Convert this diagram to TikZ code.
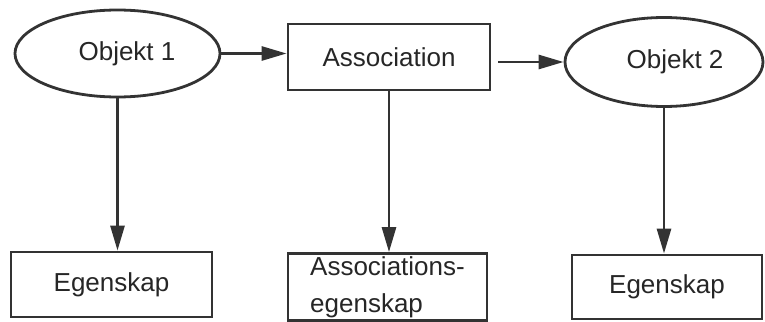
\documentclass[tikz,border=0pt]{standalone}
\usepackage{fontspec}
\setmainfont{Liberation Sans}
\usetikzlibrary{shapes.geometric,arrows.meta}

\begin{document}
\begin{tikzpicture}[x=0.5pt,y=-0.5pt,
    every node/.style={font=\fontsize{13pt}{18.5pt}\selectfont, text=black!85},
    obj/.style={draw=black!80, ellipse, line width=1.4pt, inner sep=0pt},
    box/.style={draw=black!80, rectangle, line width=1.4pt, inner sep=0pt},
    link/.style={draw=black!80, line width=1.4pt, -{Triangle[length=12.5pt,width=7pt]}}]
    \useasboundingbox (0,0) rectangle (765,321);
    % top row
    \node[obj, minimum width=102.5pt, minimum height=43.5pt] (obj1) at (117.5,53.5) {\hspace*{9.5pt}Objekt 1};
    \node[box, minimum width=101pt, minimum height=33pt] (assoc) at (389,57) {Association};
    \node[obj, minimum width=99pt, minimum height=44.5pt] (obj2) at (664,62) {\hspace*{11pt}Objekt 2};
    % bottom row
    \node[box, minimum width=100.5pt, minimum height=32.5pt] (prop1) at (111.5,284.5) {Egenskap};
    \node[box, minimum width=99.5pt, minimum height=33.5pt, align=left] (assocprop) at (387.5,287)
        {Associations-\\egenskap};
    \node[box, minimum width=95pt, minimum height=32pt] (prop2) at (667,287) {Egenskap};
    % connectors
    \draw[link] (obj1.east) -- (obj1.east -| assoc.west);
    \draw[link, shorten <=3.5pt] (obj2.west -| assoc.east) -- (obj2.west);
    \draw[link] (obj1.south) -- (obj1.south |- prop1.north);
    \draw[link] (assoc.south) -- (assoc.south |- assocprop.north);
    \draw[link] (obj2.south) -- (obj2.south |- prop2.north);
\end{tikzpicture}
\end{document}
